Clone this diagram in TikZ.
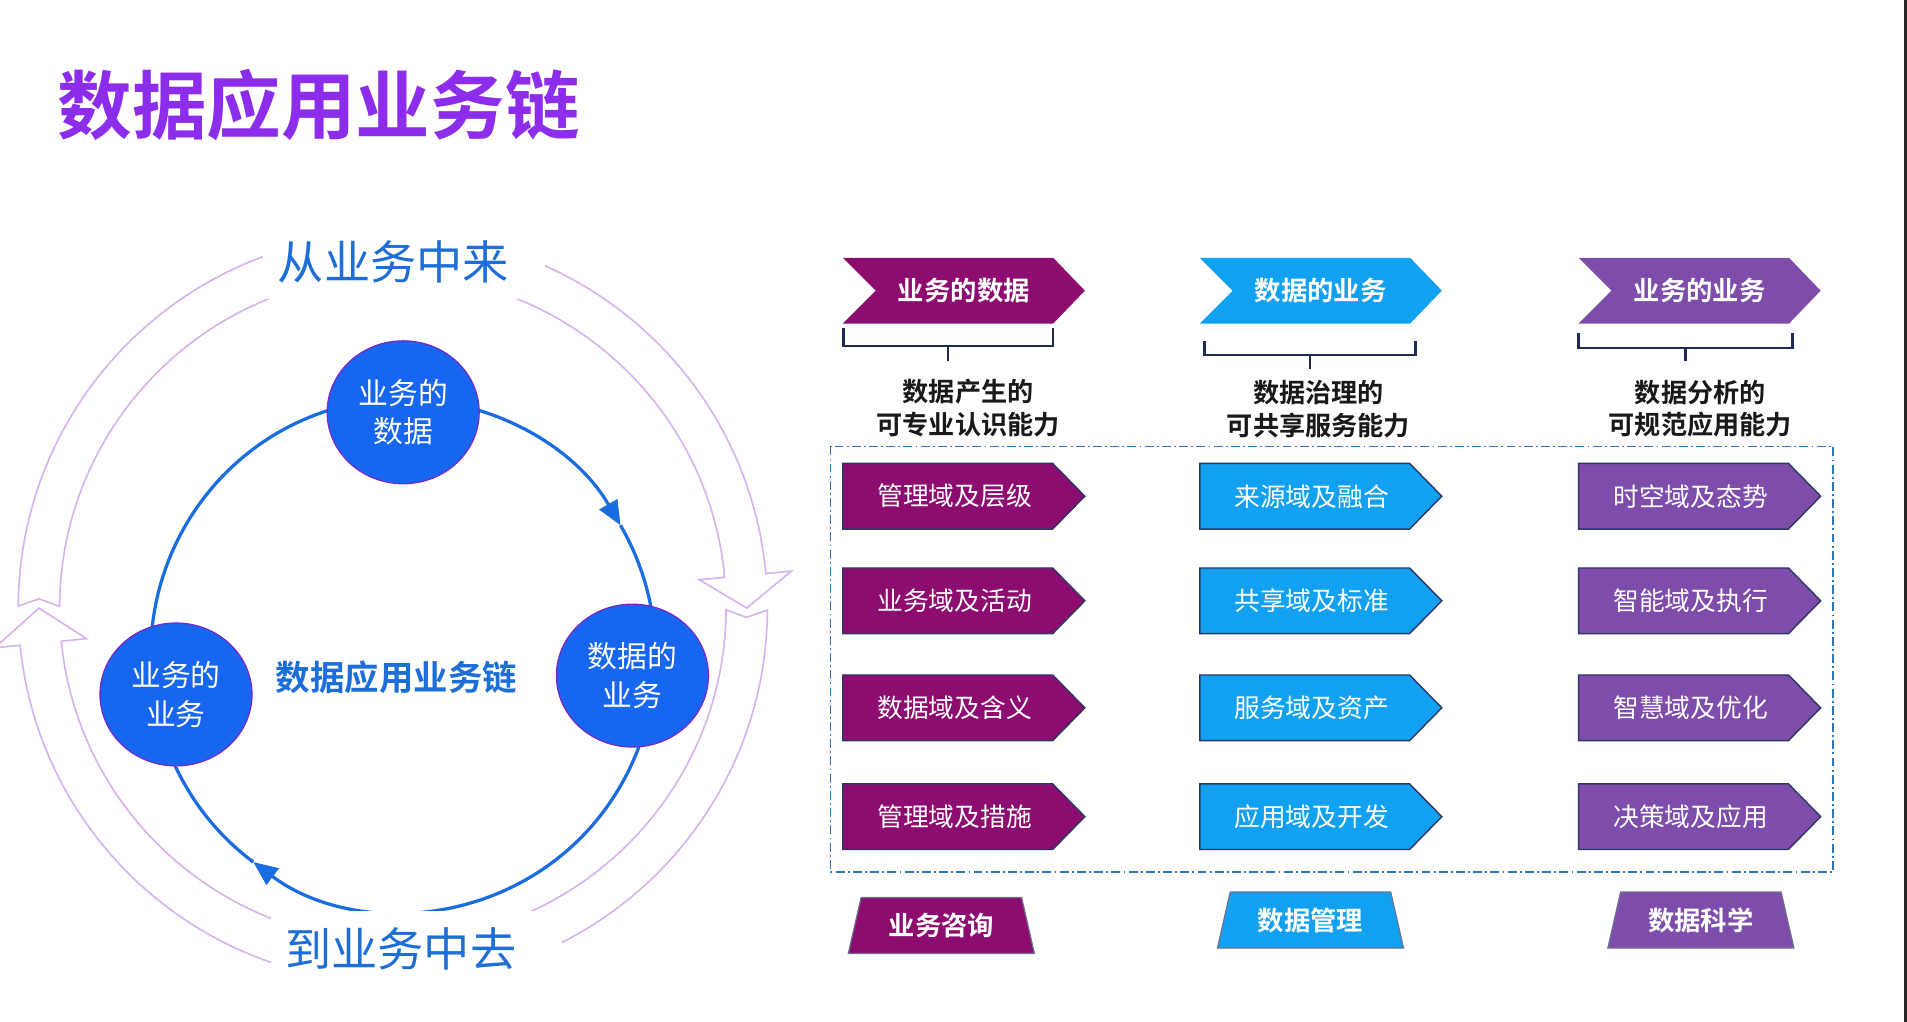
\documentclass[tikz,border=0pt]{standalone}
\usepackage{fontspec}
\setmainfont{Noto Sans CJK SC}[BoldFont={Noto Sans CJK SC Bold}]
\usetikzlibrary{arrows.meta,calc,shapes.geometric}
\definecolor{cA}{RGB}{140,12,112}
\definecolor{cB}{RGB}{18,160,240}
\definecolor{cC}{RGB}{126,76,170}
\definecolor{ringblue}{RGB}{26,108,225}
\definecolor{circfill}{RGB}{22,102,240}
\definecolor{circline}{RGB}{120,40,200}
\definecolor{lblblue}{RGB}{30,110,215}
\definecolor{outerline}{RGB}{215,178,238}
\definecolor{titlecol}{RGB}{140,45,235}
\definecolor{boxline}{RGB}{46,117,182}
\definecolor{brkcol}{RGB}{30,42,85}
\definecolor{itemline}{RGB}{45,55,100}
\begin{document}
\begin{tikzpicture}[x=0.6pt,y=-0.6pt,
  outerarrow/.style={draw=outerline, line width=0.8pt, fill=white},
  ring/.style={draw=ringblue, line width=1.6pt},
  bubble/.style={ellipse, minimum width=75pt, minimum height=70.5pt, inner sep=0pt,
     fill=circfill, draw=circline, line width=0.6pt, text=white, align=center,
     font=\fontsize{14.7pt}{18.9pt}\selectfont},
  ringlabel/.style={text=lblblue, inner sep=0pt, font=\fontsize{22.8pt}{26pt}\selectfont},
  centerlabel/.style={text=lblblue, inner sep=0pt, font=\bfseries\fontsize{17pt}{20pt}\selectfont},
  titletext/.style={text=titlecol, inner sep=0pt, font=\bfseries\fontsize{36.8pt}{40pt}\selectfont},
  hdrtext/.style={text=white, inner sep=0pt, font=\bfseries\fontsize{13pt}{15pt}\selectfont},
  itemtext/.style={text=white, inner sep=0pt, font=\fontsize{12.7pt}{15pt}\selectfont},
  traptext/.style={text=white, inner sep=0pt, font=\bfseries\fontsize{13pt}{15pt}\selectfont},
  captext/.style={text=black!90, inner sep=0pt, align=center, font=\bfseries\fontsize{12.9pt}{16.2pt}\selectfont},
  brk/.style={draw=brkcol, line width=1.2pt},
  dashbox/.style={draw=boxline, line width=0.75pt, dash pattern=on 4.4pt off 1.6pt on 0.9pt off 1.6pt},
  pics/hdr/.style 2 args={code={
    \fill[#1] (-99.5,-27) -- (73.5,-27) -- (99.5,0) -- (73.5,27) -- (-99.5,27) -- (-72.5,0) -- cycle;
    \node[hdrtext] (-t) at (0,0) {#2};
  }},
  pics/item/.style 2 args={code={
    \filldraw[fill=#1, draw=itemline, line width=0.7pt] (-99.5,-27) -- (73,-27) -- (99.5,0) -- (73,27) -- (-99.5,27) -- cycle;
    \node[itemtext] (-t) at (-7.5,0) {#2};
  }},
  pics/trap/.style 2 args={code={
    \filldraw[fill=#1, draw=itemline!70, line width=0.6pt] (-76.5,23) -- (76.5,23) -- (66,-23) -- (-66,-23) -- cycle;
    \node[traptext] (-t) at (0,0) {#2};
  }}
]
\useasboundingbox (0,0) rectangle (1568,840);
\fill[white] (0,0) rectangle (1568,840);
\fill[black!85] (1565.5,0) rectangle (1568,840);

% title
\node[titletext] (title) at (262,86) {数据应用业务链};

% outer hollow arrows
\coordinate (oc) at (323,500);
\filldraw[outerarrow] ($(oc)+(180.3:308)$) arc[start angle=180.3, end angle=354.7, radius=308]
  -- ($(oc)+(354.7:329)$) -- ($(oc)+(0:291)$) -- ($(oc)+(354.7:253)$) -- ($(oc)+(354.7:274)$)
  arc[start angle=354.7, end angle=180.3, radius=274] -- ($(oc)+(181.5:291)$) -- cycle;
\filldraw[outerarrow] ($(oc)+(0.3:308)$) arc[start angle=0.3, end angle=174.3, radius=308]
  -- ($(oc)+(174.3:329)$) -- ($(oc)+(180:291)$) -- ($(oc)+(174.3:253)$) -- ($(oc)+(174.3:274)$)
  arc[start angle=174.3, end angle=0.3, radius=274] -- ($(oc)+(1.5:291)$) -- cycle;

% blue ring
\coordinate (ringc) at (331.4,539);
\draw[ring, -{Triangle[length=12pt,width=10pt]}] (ringc) ++(-90:207.5 and 211)
  arc[start angle=-90, end angle=-30.5, x radius=207.5, y radius=211];
\draw[ring, -{Triangle[length=12pt,width=10pt]}] (ringc) ++(-30.5:207.5 and 211)
  arc[start angle=-30.5, end angle=126.4, x radius=207.5, y radius=211];
\draw[ring] (ringc) ++(126.4:207.5 and 211)
  arc[start angle=126.4, end angle=270, x radius=207.5, y radius=211];

% white backs of the ring labels
\fill[white] (216,180) rectangle (448,246);
\fill[white] (223,749) rectangle (462,818);
\node[ringlabel] (from) at (323.5,215) {从业务中来};
\node[ringlabel] (to) at (329.5,780) {到业务中去};

% circles
\node[bubble] (n1) at (331.5,339) {业务的\\数据};
\node[bubble] (n2) at (520,555.5) {数据的\\业务};
\node[bubble] (n3) at (144.7,571) {业务的\\业务};
\node[centerlabel] (mid) at (326,557) {数据应用业务链};

% headers
\pic (h1) at (792.5,239) {hdr={cA}{业务的数据}};
\pic (h2) at (1086,239) {hdr={cB}{数据的业务}};
\pic (h3) at (1397.5,239) {hdr={cC}{业务的业务}};

% brackets
\draw[brk] (693.5,270) -- (693.5,284.5) -- (866,284.5) -- (866,270);
\draw[brk] (779.5,284.5) -- (779.5,297);
\draw[brk] (990.5,280) -- (990.5,292) -- (1164,292) -- (1164,280);
\draw[brk] (1077,292) -- (1077,303);
\draw[brk] (1298,274) -- (1298,286) -- (1474,286) -- (1474,274);
\draw[brk] (1386,286) -- (1386,297);

% captions
\node[captext] (cap1) at (796,335.5) {数据产生的\\可专业认识能力};
\node[captext] (cap2) at (1084,336.5) {数据治理的\\可共享服务能力};
\node[captext] (cap3) at (1398,336) {数据分析的\\可规范应用能力};

% dash-dot frame
\draw[dashbox] (683,367) rectangle (1507,717);

% items
\pic (a1) at (792.5,408) {item={cA}{管理域及层级}};
\pic (a2) at (792.5,494) {item={cA}{业务域及活动}};
\pic (a3) at (792.5,582) {item={cA}{数据域及含义}};
\pic (a4) at (792.5,671.5) {item={cA}{管理域及措施}};
\pic (b1) at (1086,408) {item={cB}{来源域及融合}};
\pic (b2) at (1086,494) {item={cB}{共享域及标准}};
\pic (b3) at (1086,582) {item={cB}{服务域及资产}};
\pic (b4) at (1086,671.5) {item={cB}{应用域及开发}};
\pic (c1) at (1397.5,408) {item={cC}{时空域及态势}};
\pic (c2) at (1397.5,494) {item={cC}{智能域及执行}};
\pic (c3) at (1397.5,582) {item={cC}{智慧域及优化}};
\pic (c4) at (1397.5,671.5) {item={cC}{决策域及应用}};

% bottom trapezoids
\pic (t1) at (774,761) {trap={cA}{业务咨询}};
\pic (t2) at (1077.5,756.5) {trap={cB}{数据管理}};
\pic (t3) at (1398.5,756.5) {trap={cC}{数据科学}};
\end{tikzpicture}
\end{document}
